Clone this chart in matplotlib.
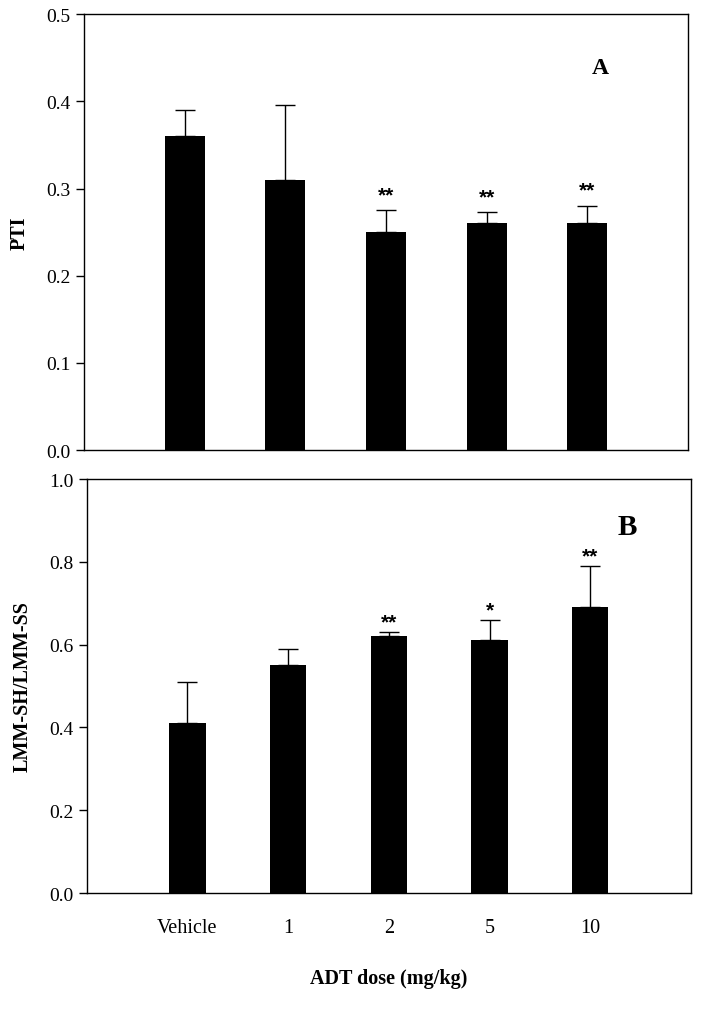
import matplotlib
matplotlib.use("Agg")
import matplotlib.pyplot as plt
import numpy as np

categories = ["Vehicle", "1", "2", "5", "10"]
pti_vals = [0.36, 0.31, 0.25, 0.26, 0.26]
pti_err = [0.03, 0.086, 0.025, 0.013, 0.02]
pti_sig = ["", "", "**", "**", "**"]
lmm_vals = [0.41, 0.55, 0.62, 0.61, 0.69]
lmm_err = [0.10, 0.04, 0.01, 0.05, 0.10]
lmm_sig = ["", "", "**", "*", "**"]

plt.rcParams['font.family'] = ['Liberation Serif', 'DejaVu Serif']

fig = plt.figure(figsize=(7.01, 10.20), dpi=100)
axA = fig.add_axes([0.1198, 0.5578, 0.8617, 0.4272])
axB = fig.add_axes([0.1237, 0.1235, 0.862, 0.4059])

x = np.arange(1, len(categories) + 1)

def panel(ax, vals, errs, sig, width, ylim, yticks, ylabel, letter, letter_pos, letter_size, sig_off):
    ax.bar(x, vals, width=width, color='black', zorder=2)
    ax.errorbar(x, vals, yerr=[np.zeros(len(vals)), errs], fmt='none',
                ecolor='black', elinewidth=1, capsize=7, capthick=1, zorder=3)
    for xi, v, e, s in zip(x, vals, errs, sig):
        if s:
            ax.text(xi, v + e + sig_off, s, ha='center', va='center',
                    fontsize=15, fontweight='bold', family=['Liberation Sans'])
    ax.set_xlim(0, 6)
    ax.set_ylim(*ylim)
    ax.set_yticks(yticks)
    ax.set_yticklabels([f"{t:.1f}" for t in yticks], fontsize=14)
    ax.tick_params(axis='y', direction='out', length=6, width=1)
    ax.set_ylabel(ylabel, fontsize=14.5, fontweight='bold', labelpad=12)
    for sp in ax.spines.values():
        sp.set_linewidth(1)
    ax.text(letter_pos[0], letter_pos[1], letter, fontsize=letter_size,
            fontweight='bold', ha='center', va='center')

panel(axA, pti_vals, pti_err, pti_sig, 0.4, (0, 0.5), [0.0, 0.1, 0.2, 0.3, 0.4, 0.5],
      "PTI", "A", (5.13, 0.4385), 17, 0.018)
axA.set_xticks([])

panel(axB, lmm_vals, lmm_err, lmm_sig, 0.36, (0, 1.0), [0.0, 0.2, 0.4, 0.6, 0.8, 1.0],
      "LMM-SH/LMM-SS", "B", (5.37, 0.886), 21, 0.025)
axB.set_xticks(x)
axB.set_xticklabels(categories, fontsize=14.5)
axB.tick_params(axis='x', length=0, pad=18)
axB.set_xlabel("ADT dose (mg/kg)", fontsize=14.5, fontweight='bold', labelpad=22)

fig.savefig("out.png", dpi=100)
